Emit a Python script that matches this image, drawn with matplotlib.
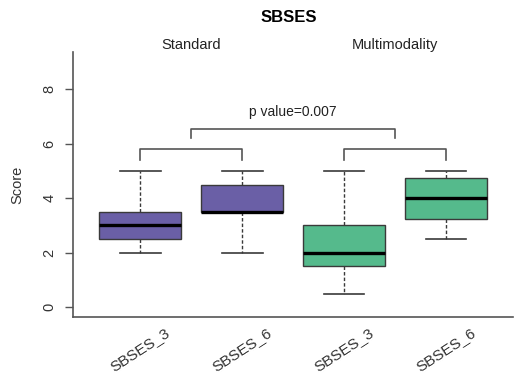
import matplotlib.pyplot as plt

plt.rcParams['font.family'] = ['Liberation Sans', 'DejaVu Sans']

# box statistics
labels = ['SBSES_3', 'SBSES_6', 'SBSES_3', 'SBSES_6']
groups = ['Standard', 'Multimodality']
whislo = [2.0, 2.0, 0.5, 2.5]
q1 = [2.5, 3.5, 1.5, 3.25]
med = [3.0, 3.5, 2.0, 4.0]
q3 = [3.5, 4.5, 3.0, 4.75]
whishi = [5.0, 5.0, 5.0, 5.0]
colors = ['#6a5fa6', '#6a5fa6', '#55ba8c', '#55ba8c']
p_text = 'p value=0.007'

stats = []
for i in range(len(labels)):
    stats.append(dict(label=labels[i], whislo=whislo[i], q1=q1[i], med=med[i],
                      q3=q3[i], whishi=whishi[i], fliers=[]))

fig = plt.figure(figsize=(5.29, 3.82), dpi=100)
ax = fig.add_axes([0.138, 0.170, 0.832, 0.694])

edge = '#3a3a3a'
bp = ax.bxp(stats, positions=[1, 2, 3, 4], widths=0.8, patch_artist=True,
            showfliers=False,
            boxprops=dict(edgecolor=edge, linewidth=1.0),
            medianprops=dict(color='black', linewidth=2.4),
            whiskerprops=dict(color=edge, linewidth=1.0, linestyle=(0, (2.5, 1.5))),
            capprops=dict(color=edge, linewidth=1.2), capwidths=0.4)
for patch, c in zip(bp['boxes'], colors):
    patch.set_facecolor(c)

ax.set_xlim(0.34, 4.66)
ax.set_ylim(-0.36, 9.36)
ax.set_yticks([0, 2, 4, 6, 8])
ax.spines['top'].set_visible(False)
ax.spines['right'].set_visible(False)
for s in ['left', 'bottom']:
    ax.spines[s].set_color('#555555')
    ax.spines[s].set_linewidth(1.2)
ax.tick_params(axis='y', length=6, width=1.0, color='#555555', pad=6, labelsize=10.5,
               labelcolor='#333333')
for t in ax.get_yticklabels():
    t.set_rotation(90)
    t.set_va('center')
ax.tick_params(axis='x', length=0, pad=6, labelsize=11, labelcolor='#333333')
for t in ax.get_xticklabels():
    t.set_rotation(33)
    t.set_ha('center')

# brackets
bc = '#555555'
for a, b in [(1, 2), (3, 4)]:
    ax.plot([a, a, b, b], [5.4, 5.8, 5.8, 5.4], color=bc, lw=1.2, clip_on=False)
ax.plot([1.5, 1.5, 3.5, 3.5], [6.2, 6.55, 6.55, 6.2], color=bc, lw=1.2, clip_on=False)
ax.text(2.5, 7.15, p_text, ha='center', va='center', fontsize=10, color='#222222')

ax.text(1.5, 9.63, groups[0], ha='center', va='center', fontsize=10.5,
        color='#222222', clip_on=False)
ax.text(3.5, 9.63, groups[1], ha='center', va='center', fontsize=10.5,
        color='#222222', clip_on=False)

fig.text(0.545, 0.955, 'SBSES', ha='center', va='center', fontsize=12,
         fontweight='bold')
fig.text(0.032, 0.517, 'Score', rotation=90, ha='center', va='center',
         fontsize=10.5, color='#333333')

fig.savefig('out.png', dpi=100)
